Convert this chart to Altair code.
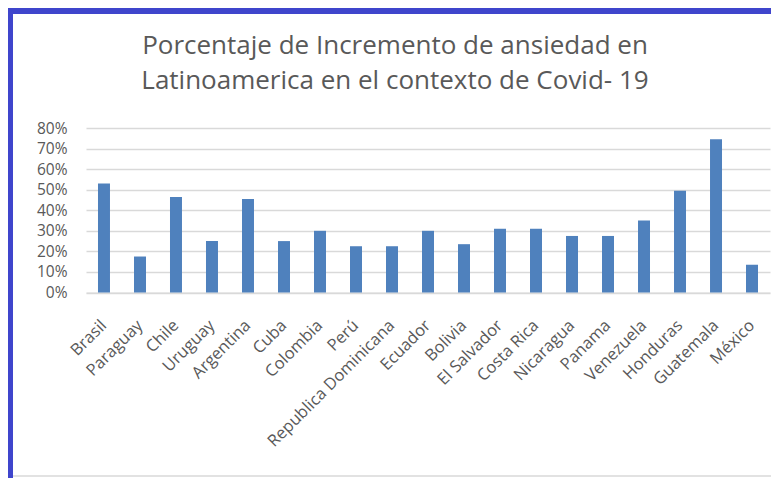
import altair as alt
import pandas as pd

countries = ["Brasil", "Paraguay", "Chile", "Uruguay", "Argentina", "Cuba", "Colombia",
             "Perú", "Republica Dominicana", "Ecuador", "Bolivia", "El Salvador",
             "Costa Rica", "Nicaragua", "Panama", "Venezuela", "Honduras", "Guatemala", "México"]
values = [0.53, 0.175, 0.465, 0.25, 0.455, 0.25, 0.30, 0.225, 0.225, 0.30, 0.235,
          0.31, 0.31, 0.275, 0.275, 0.35, 0.495, 0.745, 0.135]
title_lines = ["Porcentaje de Incremento de ansiedad en",
               "Latinoamerica en el contexto de Covid- 19"]

df = pd.DataFrame({"pais": countries, "valor": values})

FONT = "Open Sans"
GRAY = "#595959"

bars = alt.Chart(df).mark_bar(color="#4F81BD").encode(
    x=alt.X("pais:N", sort=countries, title=None,
            scale=alt.Scale(paddingInner=0.667, paddingOuter=0.333),
            axis=alt.Axis(labelAngle=-45, labelAlign="right", labelBaseline="middle",
                          labelPadding=30, ticks=False, domainColor="#d9d9d9",
                          labelColor=GRAY, labelFont=FONT, labelFontSize=16.5,
                          labelOverlap=False)),
    y=alt.Y("valor:Q", title=None,
            scale=alt.Scale(domain=[0, 0.8], nice=False),
            axis=alt.Axis(format=".0%", values=[0, 0.1, 0.2, 0.3, 0.4, 0.5, 0.6, 0.7, 0.8],
                          domain=False, ticks=False, labelPadding=19,
                          gridColor="#d9d9d9", gridWidth=1.3,
                          labelColor=GRAY, labelFont=FONT, labelFontSize=15.5)),
)

one = alt.Data(values=[{}])
title = alt.Chart(one).mark_text(
    font=FONT, fontSize=26, color=GRAY, align="center", baseline="alphabetic",
    lineHeight=35).encode(
    text=alt.value(title_lines), x=alt.value(309), y=alt.value(-74))
border_left = alt.Chart(one).mark_rule(color="#3F45CC", strokeWidth=7).encode(
    x=alt.value(-76.5), y=alt.value(-125), y2=alt.value(360))
border_top = alt.Chart(one).mark_rule(color="#3F45CC", strokeWidth=7).encode(
    x=alt.value(-80), x2=alt.value(700), y=alt.value(-117.5))
bottom_line = alt.Chart(one).mark_rule(color="#d9d9d9", strokeWidth=1.5).encode(
    x=alt.value(-73), x2=alt.value(700), y=alt.value(348))

chart = alt.layer(bars, title, border_left, border_top, bottom_line).properties(
    width=684, height=164.5,
    padding={"left": 78, "top": 120, "right": 1, "bottom": 185},
    autosize=alt.AutoSizeParams(type="none"),
).configure_view(stroke=None)

chart.save("out.html", embed_options={"renderer": "svg", "actions": False})
